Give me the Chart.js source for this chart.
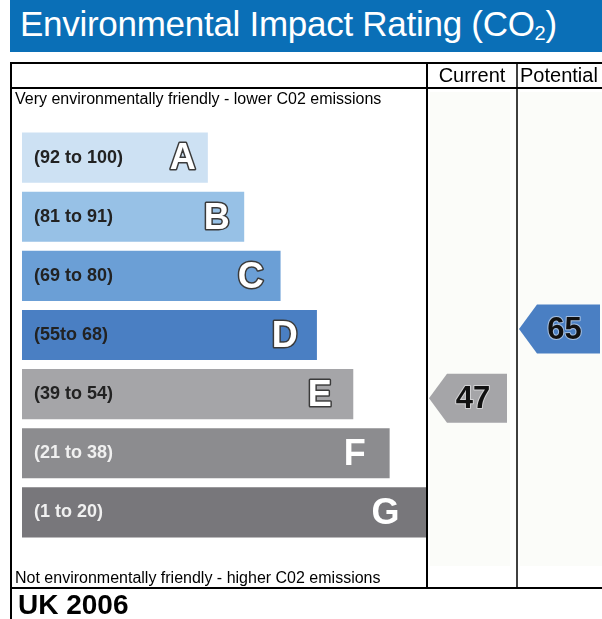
<!DOCTYPE html>
<html>
<head>
<meta charset="utf-8">
<script src="https://cdn.jsdelivr.net/npm/chart.js@4"></script>
<style>
    body { margin: 0; background: #fff; font-family: "Liberation Sans", Arial, sans-serif; }
    #wrap { position: relative; width: 602px; height: 619px; overflow: hidden; }
    #chart { position: absolute; left: 0; top: 0; }
    .txt { position: absolute; white-space: nowrap; color: #000; }
    #title { left: 10px; top: 0; width: 582px; height: 52px; padding-left: 10px; background: #0a6fb7;
        color: #fff; font-size: 35px; line-height: 48px; letter-spacing: -0.28px; }
    #title sub { font-size: 20px; vertical-align: -4px; line-height: 0; }
    #cur { left: 427px; width: 90px; top: 64px; text-align: center; font-size: 20px; }
    #pot { left: 520px; top: 64px; font-size: 20px; }
    #top-note { left: 15px; top: 90px; font-size: 16px; }
    #bottom-note { left: 15px; top: 569px; font-size: 16px; }
    #uk { left: 18px; top: 589px; font-size: 28px; font-weight: bold; }
</style>
</head>
<body>
<div id="wrap">
    <canvas id="chart" width="602" height="619"></canvas>
    <div class="txt" id="title">Environmental Impact Rating (CO<sub>2</sub>)</div>
    <div class="txt" id="cur">Current</div>
    <div class="txt" id="pot">Potential</div>
    <div class="txt" id="top-note">Very environmentally friendly - lower C02 emissions</div>
    <div class="txt" id="bottom-note">Not environmentally friendly - higher C02 emissions</div>
    <div class="txt" id="uk">UK 2006</div>
</div>
<script>
// Bands, top (best) to bottom (worst)
const bandLetters = ['A', 'B', 'C', 'D', 'E', 'F', 'G'];
const bandRanges = ['(92 to 100)', '(81 to 91)', '(69 to 80)', '(55to 68)', '(39 to 54)', '(21 to 38)', '(1 to 20)'];
const bandLengths = [46, 55, 64, 73, 82, 91, 100]; // relative bar length
const bandColors = ['#cde1f3', '#97c1e6', '#6b9fd6', '#4a7fc3', '#a5a5a8', '#8c8c8f', '#78777b'];
const rangeTextColors = ['#222', '#222', '#222', '#222', '#222', '#f0f0f0', '#f0f0f0'];
const letterOutlined = [true, true, true, true, true, false, false];

// Ratings
const ratingCurrent = 47;
const ratingPotential = 65;
const bandMins = [92, 81, 69, 55, 39, 21, 1];

function bandOf(value) {
    for (let i = 0; i < bandMins.length; i++) {
        if (value >= bandMins[i]) return i;
    }
    return bandMins.length - 1;
}

// Table frame and column backgrounds
const tablePlugin = {
    id: 'table',
    beforeDraw(chart) {
        const ctx = chart.ctx;
        ctx.save();
        // faint column shading
        ctx.fillStyle = '#fbfcf9';
        ctx.fillRect(430, 92, 80, 474);
        ctx.fillRect(520, 92, 82, 474);

        ctx.strokeStyle = '#000';
        ctx.lineWidth = 2;
        ctx.beginPath();
        ctx.moveTo(11, 619); ctx.lineTo(11, 63); ctx.lineTo(602, 63);
        ctx.moveTo(11, 88); ctx.lineTo(602, 88);
        ctx.moveTo(427, 63); ctx.lineTo(427, 588);
        ctx.moveTo(11, 588); ctx.lineTo(602, 588);
        ctx.stroke();
        ctx.lineWidth = 1.5;
        ctx.beginPath();
        ctx.moveTo(517, 63); ctx.lineTo(517, 588);
        ctx.stroke();
        ctx.restore();
    }
};

function drawArrow(ctx, tipX, rightX, y, h, color, label) {
    const tip = 18;
    ctx.fillStyle = color;
    ctx.beginPath();
    ctx.moveTo(tipX, y);
    ctx.lineTo(tipX + tip, y - h / 2);
    ctx.lineTo(rightX, y - h / 2);
    ctx.lineTo(rightX, y + h / 2);
    ctx.lineTo(tipX + tip, y + h / 2);
    ctx.closePath();
    ctx.fill();
    ctx.font = 'bold 31px "Liberation Sans", Arial, sans-serif';
    ctx.textAlign = 'center';
    ctx.textBaseline = 'middle';
    const cx = (tipX + tip + rightX) / 2 - 4;
    ctx.lineWidth = 2;
    ctx.strokeStyle = 'rgba(255,255,255,0.5)';
    ctx.strokeText(label, cx, y + 1);
    ctx.fillStyle = '#111';
    ctx.fillText(label, cx, y + 1);
}

const labelsPlugin = {
    id: 'bandLabels',
    afterDatasetsDraw(chart) {
        const ctx = chart.ctx;
        const meta = chart.getDatasetMeta(0);
        ctx.save();
        meta.data.forEach((bar, i) => {
            // range text on the left
            ctx.font = 'bold 18px "Liberation Sans", Arial, sans-serif';
            ctx.fillStyle = rangeTextColors[i];
            ctx.textAlign = 'left';
            ctx.textBaseline = 'middle';
            ctx.fillText(bandRanges[i], bar.base + 12, bar.y);

            // band letter on the right
            ctx.font = 'bold 36px "Liberation Sans", Arial, sans-serif';
            ctx.textAlign = 'right';
            const lx = bar.x - 12 - 2.4 * i;
            const ly = bar.y + 2;
            if (letterOutlined[i]) {
                ctx.lineWidth = 3;
                ctx.strokeStyle = '#3a3a3a';
                ctx.lineJoin = 'round';
                ctx.strokeText(bandLetters[i], lx, ly);
            }
            ctx.fillStyle = '#fff';
            ctx.fillText(bandLetters[i], lx, ly);
        });

        // rating arrows, placed on the band of each rating
        const yScale = chart.scales.y;
        const h = 49;
        const yCur = yScale.getPixelForValue(bandOf(ratingCurrent));
        const yPot = yScale.getPixelForValue(bandOf(ratingPotential));
        drawArrow(ctx, 429, 507, yCur + 4, h, bandColors[bandOf(ratingCurrent)], String(ratingCurrent));
        drawArrow(ctx, 519, 600, yPot - 6, h, bandColors[bandOf(ratingPotential)], String(ratingPotential));
        ctx.restore();
    }
};

new Chart(document.getElementById('chart'), {
    type: 'bar',
    data: {
        labels: bandLetters,
        datasets: [{
            data: bandLengths,
            backgroundColor: bandColors,
            borderWidth: 0,
            barPercentage: 50 / 59,
            categoryPercentage: 1
        }]
    },
    options: {
        indexAxis: 'y',
        responsive: false,
        devicePixelRatio: 1,
        animation: false,
        layout: {
            padding: { left: 22, right: 176, top: 128, bottom: 77 }
        },
        plugins: {
            legend: { display: false },
            tooltip: { enabled: false }
        },
        scales: {
            x: { display: false, min: 0, max: 100 },
            y: { display: false }
        }
    },
    plugins: [tablePlugin, labelsPlugin]
});
</script>
</body>
</html>
